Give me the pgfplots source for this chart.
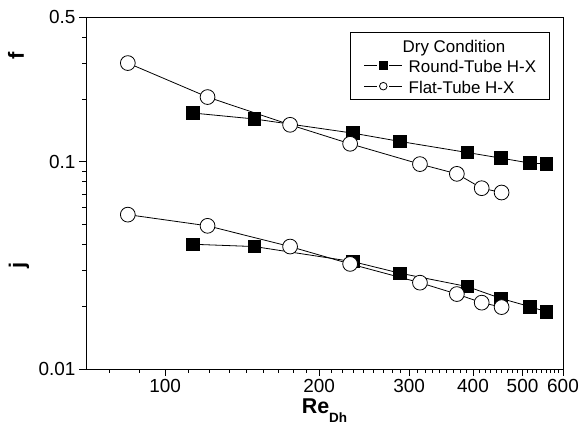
\documentclass[border=0pt]{standalone}
\usepackage{pgfplots}
\pgfplotsset{compat=1.18}
\usepackage{fontspec}
\setmainfont{Liberation Sans}
\begin{document}
\begin{tikzpicture}
\begin{axis}[
  at={(0,0)}, anchor=south west,
  scale only axis,
  width=477bp, height=352bp,
  xmode=log, ymode=log,
  xmin=70, xmax=600, ymin=0.01, ymax=0.5,
  axis line style={line width=0.9bp},
  every tick/.style={black, line width=0.8bp},
  tick align=outside, tick pos=left,
  major tick length=7bp, minor tick length=4bp,
  xtick={100,200,300,400,500,600},
  xticklabels={100,200,300,400,500,600},
  minor xtick={77.78,88.89,
    111.1,122.2,133.3,144.4,155.6,166.7,177.8,188.9,
    211.1,222.2,233.3,244.4,255.6,266.7,277.8,288.9,
    311.1,322.2,333.3,344.4,355.6,366.7,377.8,388.9,
    411.1,422.2,433.3,444.4,455.6,466.7,477.8,488.9,
    511.1,522.2,533.3,544.4,555.6,566.7,577.8,588.9},
  ytick={0.01,0.1,0.5},
  yticklabels={0.01,0.1,0.5},
  minor ytick={0.02,0.03,0.04,0.05,0.06,0.07,0.08,0.09,0.2,0.3,0.4},
  /pgf/number format/assume math mode=true,
  tick label style={font=\fontsize{19}{21}\selectfont},
  xlabel={\fontsize{21.5}{24}\selectfont\textbf{Re}\raisebox{-9bp}{\fontsize{13.5}{14}\selectfont\bfseries Dh}},
  xlabel style={yshift=1bp},
  legend style={at={(0.9727,0.958)}, anchor=north east, draw=black, line width=0.8bp,
    font=\fontsize{17}{19}\selectfont, cells={anchor=west},
    nodes={inner sep=0pt, text height=15bp, text depth=1bp},
    row sep=4.5bp, column sep=6bp,
    inner xsep=13.5bp, inner ysep=5bp},
  legend image code/.code={%
     \draw[#1, line width=0.8bp] (0bp,0bp)--(13bp,0bp) (25bp,0bp)--(38bp,0bp);
     \draw[#1, mark size=3.8bp, line width=0.8bp] plot coordinates {(19bp,0bp)};},
]
\addlegendimage{empty legend}
\addlegendentry{\hspace*{-6bp}Dry Condition}
% Round-tube f
\addplot[black, line width=0.8bp, mark=square*, mark size=6.3bp, mark options={fill=black, solid}]
 coordinates {(113.3,0.172)(149.4,0.161)(232.7,0.1376)(288,0.1254)(389.9,0.1109)(453.8,0.1042)(517,0.0986)(557,0.0978)};
\addlegendentry{Round-Tube H-X}
% Flat-tube f
\addplot[black, line width=0.8bp, mark=*, mark size=7.4bp, mark options={fill=white, solid}]
 coordinates {(84.5,0.2997)(121,0.2054)(175.5,0.1509)(230,0.1222)(315,0.0975)(372,0.0875)(416,0.0746)(455,0.0711)};
\addlegendentry{Flat-Tube H-X}
% Round-tube j
\addplot[black, line width=0.8bp, mark=square*, mark size=6.3bp, mark options={fill=black, solid}, forget plot]
 coordinates {(113.3,0.0400)(149.4,0.0390)(232.7,0.0330)(288,0.0290)(389.9,0.0250)(453.8,0.0219)(517,0.0200)(557,0.0189)};
% Flat-tube j
\addplot[black, line width=0.8bp, mark=*, mark size=7.4bp, mark options={fill=white, solid}, forget plot]
 coordinates {(84.5,0.0556)(121,0.0491)(175.5,0.0390)(230,0.03215)(315,0.0261)(372,0.0230)(416,0.0209)(455,0.0199)};
\end{axis}
\node[rotate=90, font=\fontsize{22}{24}\selectfont\bfseries] at (-70bp,313bp) {f};
\node[rotate=90, font=\fontsize{22}{24}\selectfont\bfseries] at (-67bp,104bp) {j};
\pgfresetboundingbox
\path[use as bounding box] (-86bp,-64bp) rectangle (493bp,369bp);
\end{tikzpicture}
\end{document}
